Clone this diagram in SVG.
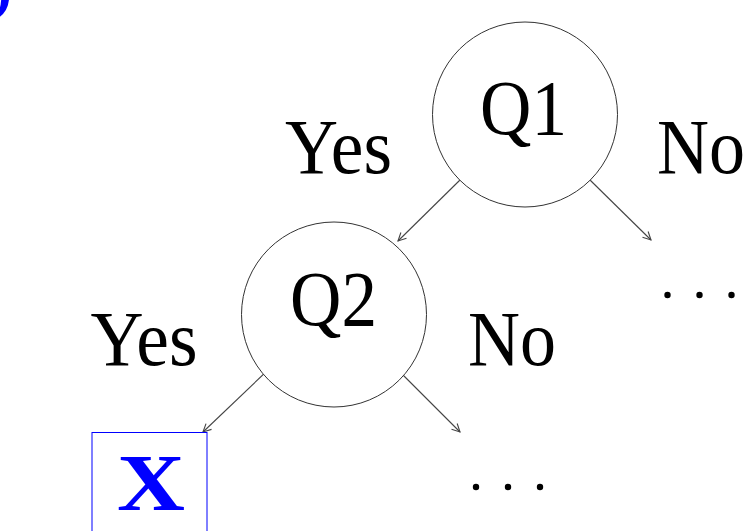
<svg xmlns="http://www.w3.org/2000/svg" width="745" height="531" viewBox="0 0 745 531">
<defs>
<style>
.lbl{font-family:"Liberation Serif","DejaVu Serif",serif;font-size:78px;fill:#000;text-anchor:middle}
.node{fill:#fff;stroke:#333;stroke-width:1}
.edge{stroke:#444;stroke-width:1.1;fill:none;marker-end:url(#arr)}
.dots{fill:#000}
</style>
<marker id="arr" viewBox="0 0 10 10" refX="9" refY="5" markerWidth="10" markerHeight="10" markerUnits="userSpaceOnUse" orient="auto">
<path d="M1,1 L9,5 L1,9" fill="none" stroke="#444" stroke-width="1.1"/>
</marker>
</defs>
<rect width="745" height="531" fill="#fff"/>
<text x="-8" y="8" font-family="Liberation Serif,serif" font-weight="bold" font-size="60" fill="#0000ff">)</text>
<g id="connectors">
<line class="edge" x1="460" y1="180" x2="398" y2="241"/>
<line class="edge" x1="590" y1="180" x2="651" y2="240"/>
<line class="edge" x1="268" y1="370" x2="203" y2="432"/>
<line class="edge" x1="398" y1="370" x2="460" y2="432"/>
</g>
<g id="Q1">
<circle class="node" cx="525" cy="114.5" r="92.5"/>
<text class="lbl" x="523.5" y="134" textLength="87" lengthAdjust="spacingAndGlyphs">Q1</text>
</g>
<g id="Q2">
<circle class="node" cx="334" cy="314.5" r="92.5"/>
<text class="lbl" x="333.5" y="325" textLength="87" lengthAdjust="spacingAndGlyphs">Q2</text>
</g>
<g id="label-yes1"><text class="lbl" x="338.5" y="173" textLength="107" lengthAdjust="spacingAndGlyphs">Yes</text></g>
<g id="label-no1"><text class="lbl" x="701" y="173" textLength="88" lengthAdjust="spacingAndGlyphs">No</text></g>
<g id="label-yes2"><text class="lbl" x="144" y="365" textLength="107" lengthAdjust="spacingAndGlyphs">Yes</text></g>
<g id="label-no2"><text class="lbl" x="512" y="365" textLength="88" lengthAdjust="spacingAndGlyphs">No</text></g>
<g id="dots1" class="dots">
<circle cx="667.5" cy="295" r="3.2"/><circle cx="699.5" cy="295" r="3.2"/><circle cx="731.5" cy="295" r="3.2"/>
</g>
<g id="dots2" class="dots">
<circle cx="476" cy="487" r="3.2"/><circle cx="508" cy="487" r="3.2"/><circle cx="540" cy="487" r="3.2"/>
</g>
<g id="X">
<rect x="92" y="432.5" width="115" height="110" fill="none" stroke="#0000ff" stroke-width="1"/>
<text x="151" y="510" font-family="Liberation Serif,serif" font-weight="bold" font-size="80" fill="#0000ff" text-anchor="middle" textLength="68" lengthAdjust="spacingAndGlyphs">X</text>
</g>
</svg>
